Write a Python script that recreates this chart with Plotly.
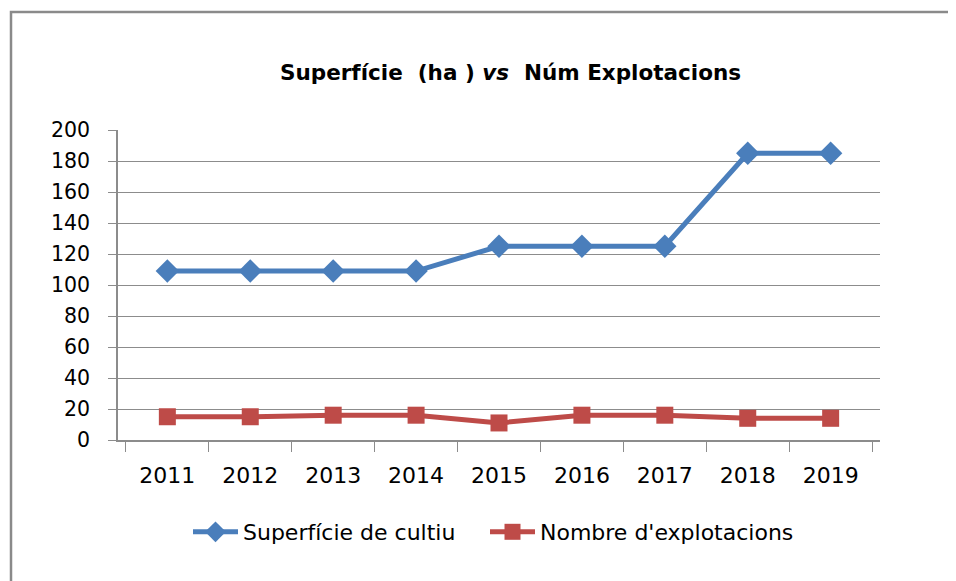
import plotly.graph_objects as go

years = ["2011", "2012", "2013", "2014", "2015", "2016", "2017", "2018", "2019"]
superficie = [109, 109, 109, 109, 125, 125, 125, 185, 185]
explotacions = [15, 15, 16, 16, 11, 16, 16, 14, 14]
y_ticks = [0, 20, 40, 60, 80, 100, 120, 140, 160, 180, 200]

FONT = "'DejaVu Sans', sans-serif"
BLUE = "#4A7EBB"
RED = "#BE4B48"
GRID = "#8C8C8C"

fig = go.Figure()
fig.add_trace(go.Scatter(
    x=years, y=superficie, name="Superfície de cultiu",
    mode="lines+markers", legend="legend",
    line=dict(color=BLUE, width=5),
    marker=dict(symbol="diamond", size=18, color=BLUE),
))
fig.add_trace(go.Scatter(
    x=years, y=explotacions, name="Nombre d'explotacions",
    mode="lines+markers", legend="legend2",
    line=dict(color=RED, width=5),
    marker=dict(symbol="square", size=17, color=RED),
))

# page body has an 8px margin; work in screen pixels
OFF = 8
W, H = 956 - OFF, 581 - OFF
L, R, T, B = 118 - OFF, 76, 130 - OFF, 141
pw, ph = W - L - R, H - T - B

def px_x(x):
    return (x - OFF - L) / pw

def px_y(y):
    return (H - B - (y - OFF)) / ph

legend_common = dict(orientation="h", xanchor="left", yanchor="middle",
                     y=px_y(532), font=dict(size=22), itemwidth=45,
                     bgcolor="rgba(0,0,0,0)")

fig.update_layout(
    width=W, height=H,
    margin=dict(l=L, r=R, t=T, b=B),
    paper_bgcolor="white", plot_bgcolor="white",
    font=dict(family=FONT, size=20, color="#000000"),
    showlegend=True,
    legend=dict(x=px_x(188), **legend_common),
    legend2=dict(x=px_x(485), **legend_common),
    xaxis=dict(type="category", showgrid=False, showline=True,
               linecolor=GRID, linewidth=1.5, ticks="outside",
               tickson="boundaries", ticklen=10, tickcolor=GRID,
               tickfont=dict(size=22), zeroline=False,
               ticklabelstandoff=15),
    yaxis=dict(range=[0, 200], tickvals=y_ticks, showgrid=True,
               gridcolor=GRID, gridwidth=1.2, showline=True,
               linecolor=GRID, linewidth=1.5, ticks="outside",
               ticklen=8, tickcolor=GRID, zeroline=False,
               tickfont=dict(size=20.5), ticklabelstandoff=14),
    annotations=[dict(
        text="<b>Superfície  (ha ) <i>vs</i>  Núm Explotacions</b>",
        xref="paper", yref="paper", x=px_x(510), y=px_y(72),
        xanchor="center", yanchor="middle", showarrow=False,
        font=dict(size=21.5, family=FONT))],
    shapes=[dict(type="rect", xref="paper", yref="paper",
                 x0=px_x(11), y0=px_y(600), x1=px_x(970), y1=px_y(12),
                 line=dict(color="#8A8A8A", width=2.5), layer="below")],
)

fig.write_html("out.html")
